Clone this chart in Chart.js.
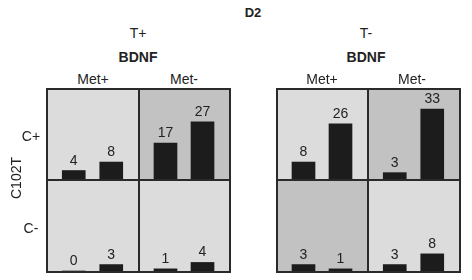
<!DOCTYPE html>
<html><head><meta charset="utf-8">
<script src="https://cdn.jsdelivr.net/npm/chart.js@4.4.1/dist/chart.umd.min.js"></script>
<style>
body{margin:0;background:#fff;}
#wrap{position:relative;width:472px;height:280px;font-family:"Liberation Sans",Arial,sans-serif;color:#222;overflow:hidden;background:#fff}
.t{position:absolute;transform:translate(-50%,-50%);white-space:nowrap;font-size:14px;line-height:1}
.b{font-weight:bold;font-size:13px}
.b2{font-weight:bold;font-size:14px}
.cell{position:absolute}
.cell canvas{position:absolute;left:0;top:0}
.box{position:absolute;border:2px solid #2a2a2a;box-sizing:border-box}
.ln{position:absolute;background:#2a2a2a}
.lbl{position:absolute;transform:translate(-50%,-100%);font-size:14px;line-height:1;white-space:nowrap;color:#222}
</style></head>
<body><div id="wrap"></div>
<script>
// ---- data ----
const title = 'D2';
const panelLabels = ['T+', 'T-'];
const factorLabel = 'BDNF';
const colLabels = ['Met+', 'Met-'];
const rowLabels = ['C+', 'C-'];
const rowFactor = 'C102T';
// values per panel and row: [Met+ bar1, Met+ bar2, Met- bar1, Met- bar2]
const tPlusCPlus   = [4, 8, 17, 27];
const tPlusCMinus  = [0, 3, 1, 4];
const tMinusCPlus  = [8, 26, 3, 33];
const tMinusCMinus = [3, 1, 3, 8];
const yMax = 42;

// ---- layout / style ----
const LIGHT = '#dcdcdc', DARK = '#c2c2c2', BAR = '#1c1c1c';
const shade = [[[LIGHT, DARK], [LIGHT, LIGHT]], [[LIGHT, DARK], [DARK, LIGHT]]];
const panelData = [[tPlusCPlus, tPlusCMinus], [tMinusCPlus, tMinusCMinus]];
const grids = [{x: 46, y: 88, w: 185, h: 185, sx: 93, sy: 92, cx: 138, mx: [93, 184]},
               {x: 276, y: 88, w: 185, h: 185, sx: 92, sy: 92, cx: 366, mx: [322, 412]}];
const L = 2;
const wrap = document.getElementById('wrap');
function txt(s, x, y, cls) {
  const d = document.createElement('div');
  d.className = 't' + (cls ? ' ' + cls : '');
  d.textContent = s; d.style.left = x + 'px'; d.style.top = y + 'px';
  wrap.appendChild(d); return d;
}
txt(title, 253, 12, 'b');
grids.forEach((g, p) => {
  txt(panelLabels[p], g.cx, 33);
  txt(factorLabel, g.cx, 57, 'b2');
  txt(colLabels[0], g.mx[0], 79);
  txt(colLabels[1], g.mx[1], 79);
  for (let r = 0; r < 2; r++) {
    for (let c = 0; c < 2; c++) {
      const x0 = c === 0 ? g.x + L : g.x + g.sx + L / 2;
      const x1 = c === 0 ? g.x + g.sx - L / 2 : g.x + g.w - L;
      const y0 = r === 0 ? g.y + L : g.y + g.sy + L / 2;
      const y1 = r === 0 ? g.y + g.sy - L / 2 : g.y + g.h - L;
      const w = x1 - x0, h = y1 - y0;
      const cell = document.createElement('div');
      cell.className = 'cell';
      Object.assign(cell.style, {left: x0 + 'px', top: y0 + 'px', width: w + 'px', height: h + 'px', background: shade[p][r][c]});
      const cv = document.createElement('canvas');
      cv.width = w; cv.height = h; cv.style.width = w + 'px'; cv.style.height = h + 'px';
      cell.appendChild(cv); wrap.appendChild(cell);
      const vals = panelData[p][r].slice(c * 2, c * 2 + 2);
      const ch = new Chart(cv, {
        type: 'bar',
        data: {labels: ['1', '2'], datasets: [{data: vals, backgroundColor: BAR, borderWidth: 0, barThickness: 23}]},
        options: {
          responsive: false, animation: false, devicePixelRatio: 1,
          layout: {padding: {left: 7, right: 8, top: 0, bottom: 0}},
          plugins: {legend: {display: false}, tooltip: {enabled: false}},
          scales: {x: {display: false, offset: true}, y: {display: false, min: 0, max: yMax}}
        }
      });
      ch.getDatasetMeta(0).data.forEach((el, i) => {
        const d = document.createElement('div');
        d.className = 'lbl';
        d.textContent = String(vals[i]);
        d.style.left = (x0 + el.x) + 'px';
        d.style.top = (y0 + el.y - 4) + 'px';
        wrap.appendChild(d);
      });
    }
  }
  const box = document.createElement('div');
  box.className = 'box';
  Object.assign(box.style, {left: g.x + 'px', top: g.y + 'px', width: g.w + 'px', height: g.h + 'px'});
  wrap.appendChild(box);
  const v = document.createElement('div'); v.className = 'ln';
  Object.assign(v.style, {left: (g.x + g.sx - L / 2) + 'px', top: g.y + 'px', width: L + 'px', height: g.h + 'px'});
  wrap.appendChild(v);
  const hz = document.createElement('div'); hz.className = 'ln';
  Object.assign(hz.style, {left: g.x + 'px', top: (g.y + g.sy - L / 2) + 'px', width: g.w + 'px', height: L + 'px'});
  wrap.appendChild(hz);
});
txt(rowLabels[0], 31, 136);
txt(rowLabels[1], 31, 228);
const rf = txt(rowFactor, 16, 178);
rf.style.transform = 'translate(-50%,-50%) rotate(-90deg)';
</script></body></html>
